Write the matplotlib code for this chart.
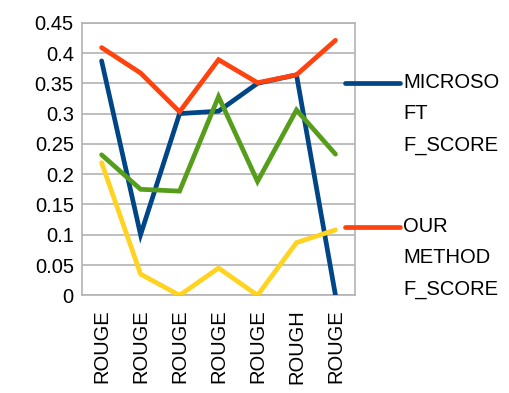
import matplotlib
matplotlib.use("Agg")
import matplotlib.pyplot as plt
from matplotlib.lines import Line2D

plt.rcParams['font.family'] = ['Liberation Sans', 'DejaVu Sans']

categories = ["ROUGE", "ROUGE", "ROUGE", "ROUGE", "ROUGE", "ROUGH", "ROUGE"]
microsoft_f = [0.387, 0.100, 0.300, 0.304, 0.350, 0.364, 0.0]
our_method_f = [0.409, 0.367, 0.303, 0.389, 0.351, 0.364, 0.421]
series_green = [0.232, 0.175, 0.172, 0.328, 0.188, 0.306, 0.233]
series_yellow = [0.219, 0.035, 0.0, 0.045, 0.0, 0.087, 0.108]

legend_labels = ["MICROSO\nFT\nF_SCORE", "OUR\nMETHOD\nF_SCORE"]
yticks = [0, 0.05, 0.1, 0.15, 0.2, 0.25, 0.3, 0.35, 0.4, 0.45]
ytick_labels = ["0", "0.05", "0.1", "0.15", "0.2", "0.25", "0.3", "0.35", "0.4", "0.45"]

c_blue, c_orange, c_green, c_yellow = "#004586", "#ff420e", "#579d1c", "#ffd320"

fig = plt.figure(figsize=(5.1, 3.93), dpi=100)
ax = fig.add_axes([0.161, 0.2486, 0.535, 0.6935])

x = range(len(categories))
lw = 3.4
for series, color in [(microsoft_f, c_blue), (our_method_f, c_orange),
                      (series_green, c_green), (series_yellow, c_yellow)]:
    ax.plot(x, series, color=color, lw=lw, solid_capstyle='round',
            solid_joinstyle='miter', zorder=3)

ax.set_xlim(-0.5, len(categories) - 0.5)
ax.set_ylim(0, 0.45)
ax.set_yticks(yticks)
ax.set_yticklabels(ytick_labels, fontsize=14.5)
ax.set_xticks(list(x))
ax.set_xticklabels(categories, rotation=90, fontsize=14.5, va='top')
ax.tick_params(length=0, pad=6)
ax.tick_params(axis='x', pad=10)
ax.yaxis.grid(True, color="#b3b3b3", lw=1.2)
ax.set_axisbelow(True)
for s in ax.spines.values():
    s.set_color("#b3b3b3")
    s.set_linewidth(1.2)

# legend drawn beside the plot area
W, H = 510, 393
entries = [(c_blue, 82.7, legend_labels[0]), (c_orange, 226.7, legend_labels[1])]
for color, ypix, label in entries:
    yf = 1 - ypix / H
    fig.add_artist(Line2D([345 / W, 400 / W], [yf, yf], color=color, lw=lw,
                          solid_capstyle='round', transform=fig.transFigure))
    fig.text(403 / W, yf + 10 / H, label, fontsize=14.5, va='top', ha='left',
             linespacing=1.85)

fig.savefig("out.png", dpi=100)
